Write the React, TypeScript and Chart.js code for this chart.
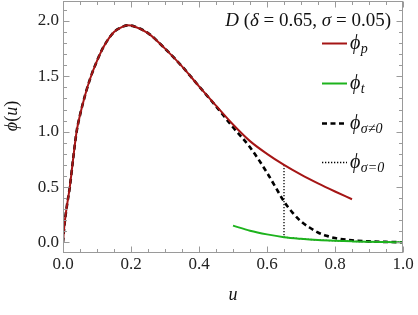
import React, { useEffect, useRef } from "react";
import { Chart, registerables } from "chart.js";
Chart.register(...registerables);

// ---- data ----
const uP = [0, 0.004, 0.01, 0.02, 0.03, 0.04, 0.05, 0.065, 0.08, 0.1, 0.12, 0.15, 0.17, 0.19, 0.21, 0.25, 0.3, 0.35, 0.4, 0.45, 0.5, 0.55, 0.6, 0.65, 0.7, 0.75, 0.8, 0.85];
const phiP = [0, 0.15, 0.3, 0.5, 0.76, 1.0, 1.15, 1.33, 1.48, 1.64, 1.77, 1.9, 1.94, 1.96, 1.95, 1.89, 1.75, 1.59, 1.41, 1.235, 1.065, 0.915, 0.8, 0.7, 0.612, 0.533, 0.46, 0.39];

const uSigma = [0, 0.004, 0.01, 0.02, 0.03, 0.04, 0.05, 0.065, 0.08, 0.1, 0.12, 0.15, 0.17, 0.19, 0.21, 0.25, 0.3, 0.35, 0.4, 0.45, 0.5, 0.55, 0.6, 0.625, 0.65, 0.675, 0.7, 0.725, 0.75, 0.775, 0.8, 0.85, 0.9, 0.95, 1.0];
const phiSigma = [0, 0.15, 0.3, 0.5, 0.76, 1.0, 1.15, 1.33, 1.48, 1.64, 1.77, 1.9, 1.94, 1.96, 1.95, 1.89, 1.75, 1.59, 1.41, 1.23, 1.04, 0.86, 0.63, 0.5, 0.37, 0.27, 0.19, 0.135, 0.09, 0.06, 0.04, 0.02, 0.01, 0.005, 0.002];

const uT = [0.5, 0.55, 0.6, 0.65, 0.7, 0.75, 0.8, 0.85, 0.9, 0.95, 1.0];
const phiT = [0.152, 0.106, 0.073, 0.048, 0.033, 0.022, 0.015, 0.01, 0.006, 0.004, 0.002];

const uS0 = [0.65, 0.65, 0.7, 0.75, 0.8, 0.85, 0.9, 0.95, 1.0];
const phiS0 = [0.7, 0.048, 0.033, 0.022, 0.015, 0.01, 0.006, 0.004, 0.002];

const xTicks = [0, 0.2, 0.4, 0.6, 0.8, 1.0];
const yTicks = [0, 0.5, 1.0, 1.5, 2.0];

const legendMain = ["ϕ", "ϕ", "ϕ", "ϕ"];
const legendSub = ["p", "t", "σ≠0", "σ=0"];
const xTitle = "u";
const yTitleParts = [["ϕ", true], ["(", false], ["u", true], [")", false]] as [string, boolean][];
const annotParts = [["D", true], [" (", false], ["δ", true], [" = 0.65, ", false], ["σ", true], [" = 0.05)", false]] as [string, boolean][];

const RED = "#a51515";
const GREEN = "#1db31d";
const SERIF = "'Liberation Serif', 'DejaVu Serif', serif";

const pts = (xs: number[], ys: number[]) => xs.map((x, i) => ({ x, y: ys[i] }));

function drawParts(ctx: CanvasRenderingContext2D, parts: [string, boolean][], size: number, xRight: number, y: number) {
  const font = (it: boolean) => `${it ? "italic " : ""}${size}px ${SERIF}`;
  let total = 0;
  for (const [t, it] of parts) { ctx.font = font(it); total += ctx.measureText(t).width; }
  let x = xRight - total;
  ctx.textAlign = "left";
  for (const [t, it] of parts) { ctx.font = font(it); ctx.fillText(t, x, y); x += ctx.measureText(t).width; }
  return total;
}

const framePlugin = {
  id: "frameDecor",
  afterDraw(chart: any) {
    const { ctx, chartArea, scales } = chart;
    const { left, right, top, bottom } = chartArea;
    const xs = scales.x, ys = scales.y;
    ctx.save();
    ctx.strokeStyle = "#9a9a9a";
    ctx.lineWidth = 1;
    const L = Math.round(left) + 0.5, R = Math.round(right) - 0.5, T = Math.round(top) + 0.5, B = Math.round(bottom) - 0.5;
    ctx.strokeRect(L, T, R - L, B - T);
    ctx.beginPath();
    for (let i = 0; i <= 20; i++) {
      const v = i * 0.05;
      const px = Math.round(xs.getPixelForValue(v)) + 0.5;
      const len = i % 4 === 0 ? 6 : 3.5;
      ctx.moveTo(px, B); ctx.lineTo(px, B - len);
      ctx.moveTo(px, T); ctx.lineTo(px, T + len);
    }
    for (let i = 0; i <= 21; i++) {
      const v = i * 0.1;
      const py = Math.round(ys.getPixelForValue(v)) + 0.5;
      const len = i % 5 === 0 ? 6 : 3.5;
      ctx.moveTo(L, py); ctx.lineTo(L + len, py);
      ctx.moveTo(R, py); ctx.lineTo(R - len, py);
    }
    ctx.stroke();

    ctx.fillStyle = "#111";
    ctx.textBaseline = "alphabetic";
    // x title
    ctx.font = `italic 18px ${SERIF}`;
    ctx.textAlign = "center";
    ctx.fillText(xTitle, (left + right) / 2, 300);
    // y title rotated
    ctx.save();
    ctx.translate(17, 116);
    ctx.rotate(-Math.PI / 2);
    let w = 0;
    for (const [t, it] of yTitleParts) { ctx.font = `${it ? "italic " : ""}18px ${SERIF}`; w += ctx.measureText(t).width; }
    drawParts(ctx, yTitleParts, 18, w / 2, 0);
    ctx.restore();
    // annotation
    drawParts(ctx, annotParts, 19, 391, 26);

    // legend
    const rowsY = [43, 83, 123, 162];
    const styles = [
      { c: RED, w: 2, d: [] as number[] },
      { c: GREEN, w: 2, d: [] as number[] },
      { c: "#000", w: 2.4, d: [5, 3.5] },
      { c: "#000", w: 1.3, d: [1.3, 1.7] },
    ];
    rowsY.forEach((ry, i) => {
      const s = styles[i];
      ctx.save();
      ctx.strokeStyle = s.c; ctx.lineWidth = s.w; ctx.setLineDash(s.d);
      ctx.beginPath(); ctx.moveTo(322, ry + 0.5); ctx.lineTo(347, ry + 0.5); ctx.stroke();
      ctx.restore();
      ctx.textAlign = "left";
      ctx.font = `italic 20px ${SERIF}`;
      ctx.fillText(legendMain[i], 350, ry + 6);
      const mw = ctx.measureText(legendMain[i]).width;
      ctx.font = `italic 14px ${SERIF}`;
      ctx.fillText(legendSub[i], 350 + mw + 0.5, ry + 10);
    });
    ctx.restore();
  },
};

export default function App() {
  const ref = useRef<HTMLCanvasElement | null>(null);
  useEffect(() => {
    if (!ref.current) return;
    const chart = new Chart(ref.current, {
      type: "scatter",
      data: {
        datasets: [
          { label: "phi_t", data: pts(uT, phiT), showLine: true, borderColor: GREEN, borderWidth: 2, pointRadius: 0, cubicInterpolationMode: "monotone" },
          { label: "phi_p", data: pts(uP, phiP), showLine: true, borderColor: RED, borderWidth: 2, pointRadius: 0, cubicInterpolationMode: "monotone" },
          { label: "phi_sigma", data: pts(uSigma, phiSigma), showLine: true, borderColor: "#000", borderWidth: 2.6, borderDash: [5, 3.5], pointRadius: 0, cubicInterpolationMode: "monotone" },
          { label: "phi_sigma0", data: pts(uS0, phiS0), showLine: true, borderColor: "#000", borderWidth: 1.3, borderDash: [1.3, 1.7], pointRadius: 0, tension: 0 },
        ],
      } as any,
      options: {
        animation: false,
        responsive: false,
        devicePixelRatio: 1,
        layout: { padding: { left: 0, right: 15, top: 1, bottom: 0 } },
        plugins: { legend: { display: false }, tooltip: { enabled: false }, title: { display: false } },
        scales: {
          x: {
            type: "linear", min: 0, max: 1,
            grid: { display: false, drawTicks: false },
            border: { display: false },
            afterBuildTicks: (s: any) => { s.ticks = xTicks.map((v) => ({ value: v })); },
            afterFit: (s: any) => { s.height = 62; s.paddingLeft = 0; s.paddingRight = 0; s.paddingTop = 0; s.paddingBottom = 0; },
            ticks: { padding: 1, color: "#222", font: { family: SERIF, size: 17 }, maxRotation: 0, callback: (v: any) => Number(v).toFixed(1) },
          },
          y: {
            type: "linear", min: -0.095, max: 2.18,
            grid: { display: false, drawTicks: false },
            border: { display: false },
            afterBuildTicks: (s: any) => { s.ticks = yTicks.map((v) => ({ value: v })); },
            afterFit: (s: any) => { s.width = 63; s.paddingTop = 0; s.paddingBottom = 0; s.paddingLeft = 0; s.paddingRight = 0; },
            ticks: { padding: 4, color: "#222", font: { family: SERIF, size: 17 }, callback: (v: any) => Number(v).toFixed(1) },
          },
        },
      } as any,
      plugins: [framePlugin],
    });
    return () => chart.destroy();
  }, []);
  return (
    <div style={{ position: "absolute", left: 0, top: 0, width: 418, height: 315, background: "#fff" }}>
      <canvas ref={ref} width={418} height={315} style={{ display: "block" }} />
    </div>
  );
}
